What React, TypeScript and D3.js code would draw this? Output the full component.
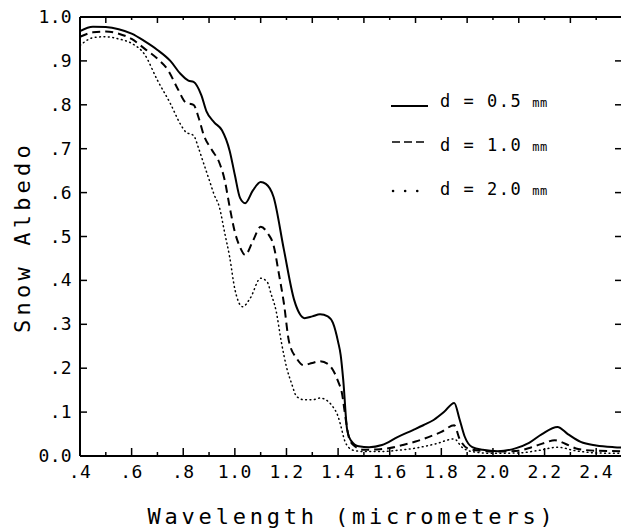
import * as d3 from 'd3'

// snow albedo vs wavelength, three grain sizes
const wl05 = [0.40,0.45,0.50,0.55,0.60,0.65,0.70,0.75,0.79,0.82,0.84,0.87,0.89,0.92,0.95,0.98,1.00,1.02,1.04,1.07,1.10,1.12,1.15,1.19,1.23,1.25,1.27,1.30,1.33,1.36,1.38,1.40,1.41,1.42,1.435,1.45,1.48,1.52,1.57,1.63,1.69,1.73,1.77,1.81,1.85,1.87,1.89,1.92,1.96,2.02,2.09,2.14,2.19,2.25,2.29,2.34,2.40,2.47,2.50]
const albedo05 = [0.968,0.978,0.977,0.972,0.962,0.945,0.925,0.900,0.870,0.855,0.852,0.822,0.785,0.760,0.742,0.695,0.640,0.588,0.576,0.605,0.624,0.620,0.590,0.470,0.355,0.325,0.314,0.318,0.323,0.318,0.303,0.260,0.230,0.173,0.060,0.035,0.022,0.020,0.025,0.043,0.059,0.070,0.082,0.100,0.121,0.085,0.045,0.020,0.014,0.011,0.018,0.030,0.050,0.066,0.050,0.032,0.024,0.020,0.019]

const wl10 = [0.40,0.45,0.50,0.55,0.60,0.65,0.70,0.74,0.78,0.81,0.84,0.86,0.88,0.91,0.94,0.96,0.98,1.00,1.02,1.04,1.07,1.10,1.13,1.15,1.17,1.19,1.21,1.24,1.265,1.30,1.33,1.36,1.38,1.40,1.415,1.43,1.445,1.47,1.50,1.55,1.60,1.65,1.70,1.75,1.80,1.85,1.87,1.90,1.95,2.03,2.10,2.15,2.20,2.24,2.28,2.33,2.40,2.50]
const albedo10 = [0.955,0.965,0.967,0.962,0.950,0.928,0.905,0.880,0.835,0.805,0.800,0.770,0.730,0.698,0.668,0.630,0.567,0.510,0.476,0.458,0.490,0.522,0.505,0.480,0.417,0.348,0.260,0.222,0.207,0.212,0.216,0.210,0.196,0.170,0.143,0.082,0.036,0.020,0.014,0.015,0.018,0.025,0.033,0.043,0.055,0.070,0.040,0.018,0.012,0.010,0.012,0.020,0.030,0.036,0.028,0.016,0.012,0.011]

const wl20 = [0.40,0.43,0.46,0.50,0.55,0.60,0.65,0.70,0.75,0.79,0.81,0.84,0.86,0.88,0.90,0.92,0.94,0.96,0.98,1.00,1.03,1.06,1.10,1.125,1.14,1.16,1.18,1.20,1.22,1.24,1.27,1.30,1.33,1.36,1.38,1.40,1.41,1.425,1.44,1.46,1.50,1.57,1.63,1.70,1.78,1.85,1.88,1.92,2.00,2.10,2.18,2.25,2.32,2.40,2.50]
const albedo20 = [0.935,0.948,0.954,0.955,0.950,0.940,0.915,0.856,0.803,0.755,0.738,0.730,0.700,0.665,0.630,0.595,0.567,0.510,0.453,0.380,0.340,0.360,0.405,0.397,0.370,0.330,0.260,0.203,0.165,0.135,0.128,0.128,0.132,0.125,0.112,0.090,0.070,0.036,0.020,0.013,0.010,0.010,0.013,0.018,0.028,0.039,0.020,0.010,0.006,0.007,0.013,0.020,0.012,0.007,0.006]

const xTickValues = [0.4,0.6,0.8,1.0,1.2,1.4,1.6,1.8,2.0,2.2,2.4]
const xTickLabels = ['.4','.6','.8','1.0','1.2','1.4','1.6','1.8','2.0','2.2','2.4']
const yTickValues = [0,0.1,0.2,0.3,0.4,0.5,0.6,0.7,0.8,0.9,1.0]
const yTickLabels = ['0.0','.1','.2','.3','.4','.5','.6','.7','.8','.9','1.0']
const legendLabels = ['d = 0.5', 'd = 1.0', 'd = 2.0']

export default function App() {
  const width = 621
  const height = 531
  const left = 80, right = 622, top = 17, bottom = 456
  const font = '"DejaVu Sans Mono", monospace'

  const x = d3.scaleLinear().domain([0.4, 2.5]).range([left, right])
  const y = d3.scaleLinear().domain([0, 1]).range([bottom, top])

  const line = d3.line<[number, number]>()
    .x(d => x(d[0]))
    .y(d => y(d[1]))
    .curve(d3.curveMonotoneX)

  const series = [
    { pts: wl05.map((w, i) => [w, albedo05[i]] as [number, number]), dash: 'none', w: 2 },
    { pts: wl10.map((w, i) => [w, albedo10[i]] as [number, number]), dash: '8,5', w: 2 },
    { pts: wl20.map((w, i) => [w, albedo20[i]] as [number, number]), dash: '0.8,3.6', w: 1.5 },
  ]

  const minorX = d3.range(4, 25).map(v => v / 10)

  return (
    <svg width={width} height={height} style={{ position: 'absolute', left: 0, top: 0, background: '#fff' }}>
      {/* frame */}
      <line x1={left} x2={left} y1={top} y2={bottom} stroke="#000" strokeWidth={2} />
      <line x1={left} x2={right} y1={bottom} y2={bottom} stroke="#000" strokeWidth={2} />
      <line x1={left} x2={right} y1={top} y2={top} stroke="#000" strokeWidth={2} />

      {/* bottom + top ticks */}
      {minorX.map((v, i) => {
        const major = i % 2 === 0
        return (
          <g key={'xt' + i}>
            <line x1={x(v)} x2={x(v)} y1={bottom} y2={bottom - (major ? 8 : 4)} stroke="#000" strokeWidth={1.5} />
            <line x1={x(v)} x2={x(v)} y1={top} y2={top + (major ? 3 : 6)} stroke="#000" strokeWidth={1.5} />
          </g>
        )
      })}
      {xTickValues.map((v, i) => (
        <text key={'xl' + i} x={x(v)} y={478} textAnchor="middle" fontFamily={font} fontSize={18} letterSpacing={0.5}>
          {xTickLabels[i]}
        </text>
      ))}

      {/* left + right ticks */}
      {yTickValues.map((v, i) => (
        <g key={'yt' + i}>
          <line x1={left} x2={left + 7} y1={y(v)} y2={y(v)} stroke="#000" strokeWidth={1.5} />
          <line x1={right} x2={right - 7} y1={y(v)} y2={y(v)} stroke="#000" strokeWidth={1.5} />
          <text x={72} y={y(v) + 6} textAnchor="end" fontFamily={font} fontSize={18} letterSpacing={0.3}>
            {yTickLabels[i]}
          </text>
        </g>
      ))}

      {/* curves */}
      {series.map((s, i) => (
        <path key={'s' + i} d={line(s.pts) ?? ''} fill="none" stroke="#000" strokeWidth={s.w}
          strokeDasharray={s.dash} strokeLinecap={i === 2 ? 'round' : 'butt'} />
      ))}

      {/* legend */}
      <line x1={391} x2={428} y1={106} y2={106} stroke="#000" strokeWidth={2} />
      <line x1={392} x2={428} y1={142} y2={142} stroke="#000" strokeWidth={1.5} strokeDasharray="8,4" />
      <line x1={393} x2={425} y1={191} y2={191} stroke="#000" strokeWidth={2.5} strokeDasharray="0.1,12" strokeLinecap="round" />
      {legendLabels.map((t, i) => (
        <text key={'lg' + i} x={440} y={107 + i * 44} fontFamily={font} fontSize={17} letterSpacing={1.5}>
          {t.replace(/ /g, '\u00a0')}<tspan fontSize={12} dx={10} letterSpacing={0.5}>mm</tspan>
        </text>
      ))}

      {/* axis titles */}
      <text x={(left + right) / 2 + 1} y={524} textAnchor="middle" fontFamily={font} fontSize={22} letterSpacing={3.8}>
        Wavelength (micrometers)
      </text>
      <text transform={`translate(30,${237}) rotate(-90)`} textAnchor="middle" fontFamily={font} fontSize={22} letterSpacing={4.2}>
        Snow Albedo
      </text>
    </svg>
  )
}
